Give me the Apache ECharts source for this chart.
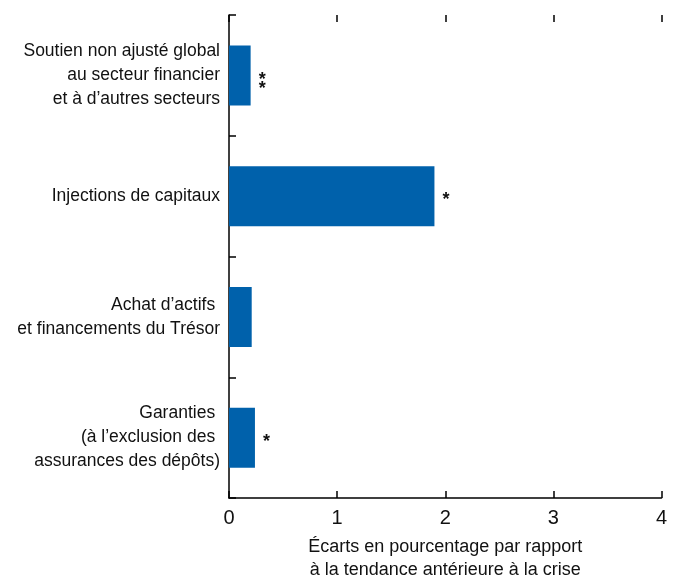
<!DOCTYPE html>
<html><head><meta charset="utf-8">
<script src="https://cdn.jsdelivr.net/npm/echarts@6/dist/echarts.min.js"></script>
<style>html,body{margin:0;padding:0;background:#fff}#c{width:678px;height:577px}</style>
</head><body><div id="c"></div>
<script>
const categories = [
  "Soutien non ajusté global\nau secteur financier\net à d’autres secteurs",
  "Injections de capitaux",
  "Achat d’actifs \net financements du Trésor",
  "Garanties \n(à l’exclusion des \nassurances des dépôts)"
];
const values = [0.20, 1.90, 0.21, 0.24];
const significance = ["*\n*", "*", "", "*"];
const xTicks = [0, 1, 2, 3, 4];
const axisTitle = "Écarts en pourcentage par rapport\nà la tendance antérieure à la crise";

const FONT = "'Liberation Sans Narrow', 'Liberation Sans', sans-serif";
const chart = echarts.init(document.getElementById('c'), null, {renderer: 'canvas'});
chart.setOption({
  animation: false,
  grid: {left: 229, right: 16.5, top: 15, bottom: 79, outerBoundsMode: 'none', containLabel: false},
  xAxis: [{
    type: 'value', min: xTicks[0], max: xTicks[xTicks.length - 1], interval: 1,
    position: 'bottom',
    axisLine: {show: true, lineStyle: {color: '#000', width: 1.5}},
    axisTick: {show: true, inside: true, length: 7, lineStyle: {color: '#000', width: 1.5}},
    splitLine: {show: false},
    axisLabel: {color: '#111', fontFamily: FONT, fontSize: 20, margin: 10},
    name: axisTitle, nameLocation: 'middle', nameGap: 36,
    nameTextStyle: {color: '#111', fontFamily: FONT, fontSize: 18, lineHeight: 23, padding: [2,0,0,0]}
  }, {
    type: 'value', min: xTicks[0], max: xTicks[xTicks.length - 1], interval: 1,
    position: 'top',
    axisLine: {show: false},
    axisTick: {show: true, inside: true, length: 7, lineStyle: {color: '#000', width: 1.5}},
    axisLabel: {show: false},
    splitLine: {show: false}
  }],
  yAxis: {
    type: 'category', inverse: true, data: categories,
    axisLine: {show: true, lineStyle: {color: '#000', width: 1.5}},
    axisTick: {show: true, inside: true, length: 7, lineStyle: {color: '#000', width: 1.5}},
    axisLabel: {color: '#111', fontFamily: FONT, fontSize: 17.5, lineHeight: 24, margin: 9, align: 'right'}
  },
  series: [{
    type: 'bar', xAxisIndex: 0,
    data: values.map((v, i) => ({value: v, label: {formatter: significance[i],
      offset: significance[i].indexOf('\n') >= 0 ? [0, 9] : [0, 4]}})),
    barWidth: 60,
    itemStyle: {color: '#0061AB'},
    label: {show: true, position: 'right', distance: 8, color: '#111',
      fontFamily: FONT, fontSize: 18, fontWeight: 'bold', lineHeight: 9}
  }]
});
</script></body></html>
